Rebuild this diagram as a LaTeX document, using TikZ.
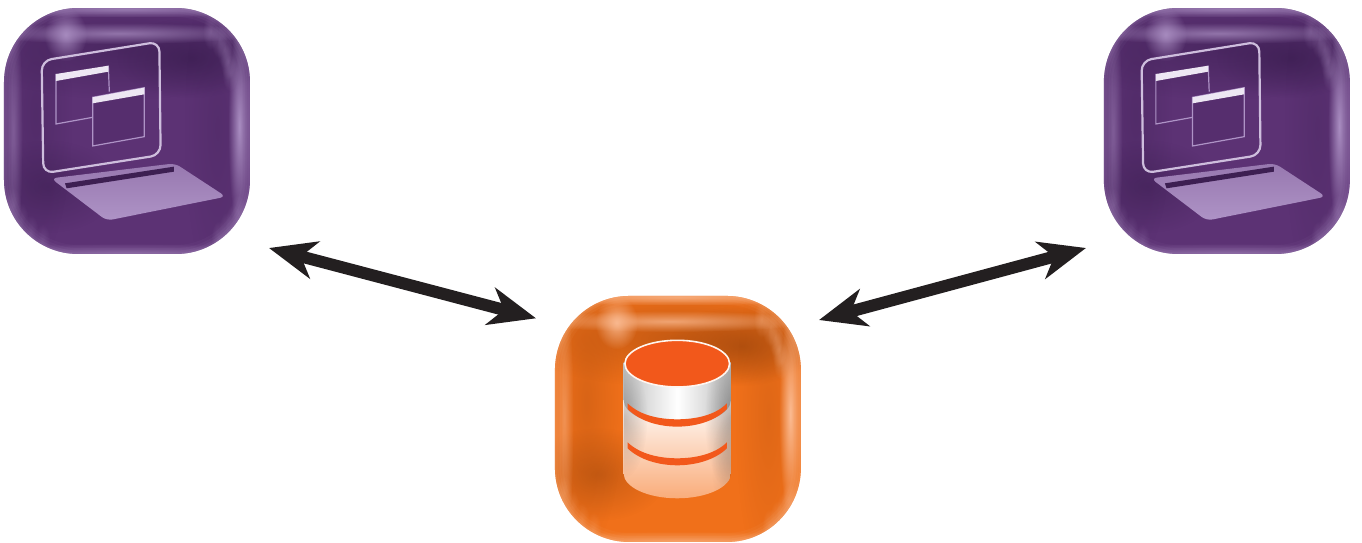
\documentclass[tikz,border=0pt]{standalone}
\usetikzlibrary{arrows.meta,fadings}
\definecolor{pBase}{HTML}{5C3274}
\definecolor{pDark}{HTML}{351A4A}
\definecolor{pLight}{HTML}{AE93C6}
\definecolor{oBase}{HTML}{F0701A}
\definecolor{oDark}{HTML}{93400A}
\definecolor{oLight}{HTML}{FCC09A}
\definecolor{dbOrange}{HTML}{F2581B}
\definecolor{arrowBlack}{HTML}{231F20}
\tikzfading[name=softblob,inner color=transparent!0,outer color=transparent!100]
\tikzset{
  iconbox/.style={rectangle,minimum size=246pt,inner sep=0pt,outer sep=0pt},
  biarrow/.style={draw=arrowBlack,line width=12pt,
    {Stealth[length=47pt,width=38pt,inset=14pt,fill=arrowBlack]}-{Stealth[length=47pt,width=38pt,inset=14pt,fill=arrowBlack]}},
  zoomunits/.style={x=0.3333pt,y=-0.3333pt},
}
% soft elliptical patch: colour, opacity, cx, cy, rx, ry
\newcommand{\softblob}[6]{%
  \fill[#1,fill opacity=#2,path fading=softblob]
    (#3,#4) ellipse[x radius=2*#5,y radius=2*#6];}
% glossy rounded tile, 738x738 units
\newcommand{\glossytile}[3]{% base, dark, light
  \fill[#1,rounded corners=74pt] (0,0) rectangle (738,738);
  \begin{scope}
    \clip[rounded corners=74pt] (0,0) rectangle (738,738);
    % darker interior
    \softblob{#2}{.45}{360}{125}{240}{75}
    \softblob{#2}{.55}{560}{150}{110}{60}
    \softblob{#2}{.42}{130}{535}{105}{70}
    \softblob{#2}{.25}{95}{320}{55}{220}
    \softblob{#2}{.18}{640}{360}{50}{250}
    % rim
    \foreach \w/\o in {18/.05,12/.07,7/.10,3/.14}{
      \draw[#3,opacity=\o,line width=\w pt,rounded corners=74pt] (0,0) rectangle (738,738);}
    % lips
    \softblob{#3}{.65}{370}{4}{260}{12}
    \softblob{#3}{.40}{370}{734}{280}{14}
    % top inner highlight and glint
    \softblob{#3}{.70}{345}{76}{215}{16}
    \softblob{#3}{.85}{185}{80}{32}{40}
    % side highlights
    \softblob{#3}{.45}{28}{370}{14}{200}
    \softblob{#3}{.95}{706}{355}{17}{160}
    \foreach \hx/\hy in {620/70,645/95,662/125,672/160,678/195}{
      \softblob{#3}{.30}{\hx}{\hy}{12}{28}}
    \foreach \hx/\hy in {702/610,688/640,668/665,645/690}{
      \softblob{#3}{.28}{\hx}{\hy}{12}{26}}
    \foreach \hx/\hy in {28/590,50/635,80/672,115/700}{
      \softblob{#3}{.20}{\hx}{\hy}{12}{26}}
  \end{scope}
}
% laptop glyph, in zoomed reference coordinates
\newcommand{\laptopglyph}{
  \draw[pLight!60!white,line width=2.2pt,rounded corners=10pt] (125,182) -- (478,125) -- (482,465) -- (130,520) -- cycle;
  % rear window
  \draw[pLight,line width=1.2pt] (168,222) -- (168,372) -- (278,352);
  \draw[pLight,line width=1.2pt] (325,197) -- (328,275);
  \fill[white!78!pLight] (168,222) -- (325,197) -- (325,215) -- (168,243) -- cycle;
  % front window
  \fill[pBase!85!pDark] (278,292) -- (433,263) -- (433,410) -- (278,438) -- cycle;
  \draw[pLight,line width=1.2pt] (278,292) -- (433,263) -- (433,410) -- (278,438) -- cycle;
  \fill[white!78!pLight] (278,292) -- (433,263) -- (433,283) -- (278,310) -- cycle;
  % keyboard deck
  \shade[top color=pLight!72!pBase,bottom color=pLight,rounded corners=6pt]
    (153,535) -- (525,490) -- (678,590) -- (320,662) -- cycle;
  \fill[pDark!80!pBase] (195,550) -- (522,500) -- (522,515) -- (200,565) -- cycle;
}
% database glyph, in zoomed reference coordinates
\newcommand{\dbglyph}{
  \begin{scope}
    \clip (236,232) -- (236,565) arc[x radius=161,y radius=75,start angle=180,end angle=0] -- (558,232) -- cycle;
    \shade[top color=white,bottom color=oLight!75!oBase] (236,340) rectangle (558,640);
    \shade[left color=black!24,right color=black!26,middle color=white]
      (236,232) -- (236,345) arc[x radius=161,y radius=75,start angle=180,end angle=0] -- (558,232) -- cycle;
    \softblob{black}{.22}{236}{400}{36}{90}
    \softblob{black}{.28}{558}{400}{40}{110}
    \softblob{black}{.10}{558}{540}{30}{80}
  \end{scope}
  \fill[dbOrange] (248,355) .. controls (285,392) and (345,403) .. (397,403) .. controls (449,403) and (510,392) .. (546,355)
    -- (546,372) .. controls (510,410) and (449,425) .. (397,425) .. controls (345,425) and (285,410) .. (248,372) -- cycle;
  \fill[dbOrange] (248,472) .. controls (285,508) and (345,520) .. (397,520) .. controls (449,520) and (510,508) .. (546,472)
    -- (546,490) .. controls (510,526) and (449,541) .. (397,541) .. controls (345,541) and (285,526) .. (248,490) -- cycle;
  \fill[dbOrange,draw=white!85!oLight,line width=1.6pt] (397,236) ellipse[x radius=157,y radius=70];
}
\begin{document}
\begin{tikzpicture}[x=1pt,y=-1pt]
\useasboundingbox (0,0) rectangle (1362,542);
\node[iconbox] (clientL) at (127,130.5) {};
\node[iconbox] (clientR) at (1227,130.5) {};
\node[iconbox] (server) at (678,418.5) {};
% tiles and glyphs
\begin{scope}[zoomunits,shift={(12,24)}]\glossytile{pBase}{pDark}{pLight}\end{scope}
\begin{scope}[zoomunits]\laptopglyph\end{scope}
\begin{scope}[zoomunits,shift={(3312,24)}]\glossytile{pBase}{pDark}{pLight}\end{scope}
\begin{scope}[zoomunits,shift={(3300,0)}]\laptopglyph\end{scope}
\begin{scope}[zoomunits,shift={(1665,888)}]\glossytile{oBase}{oDark}{oLight}\end{scope}
\begin{scope}[zoomunits,shift={(1635,855)}]\dbglyph\end{scope}
% connectors
\coordinate (lA) at ([shift={(142,117.5)}]clientL.center);
\coordinate (lB) at ([shift={(-142,-100.2)}]server.center);
\coordinate (rA) at ([shift={(-141,117.5)}]clientR.center);
\coordinate (rB) at ([shift={(141,-98.5)}]server.center);
\draw[biarrow] (lA) -- (lB);
\draw[biarrow] (rA) -- (rB);
\end{tikzpicture}
\end{document}
